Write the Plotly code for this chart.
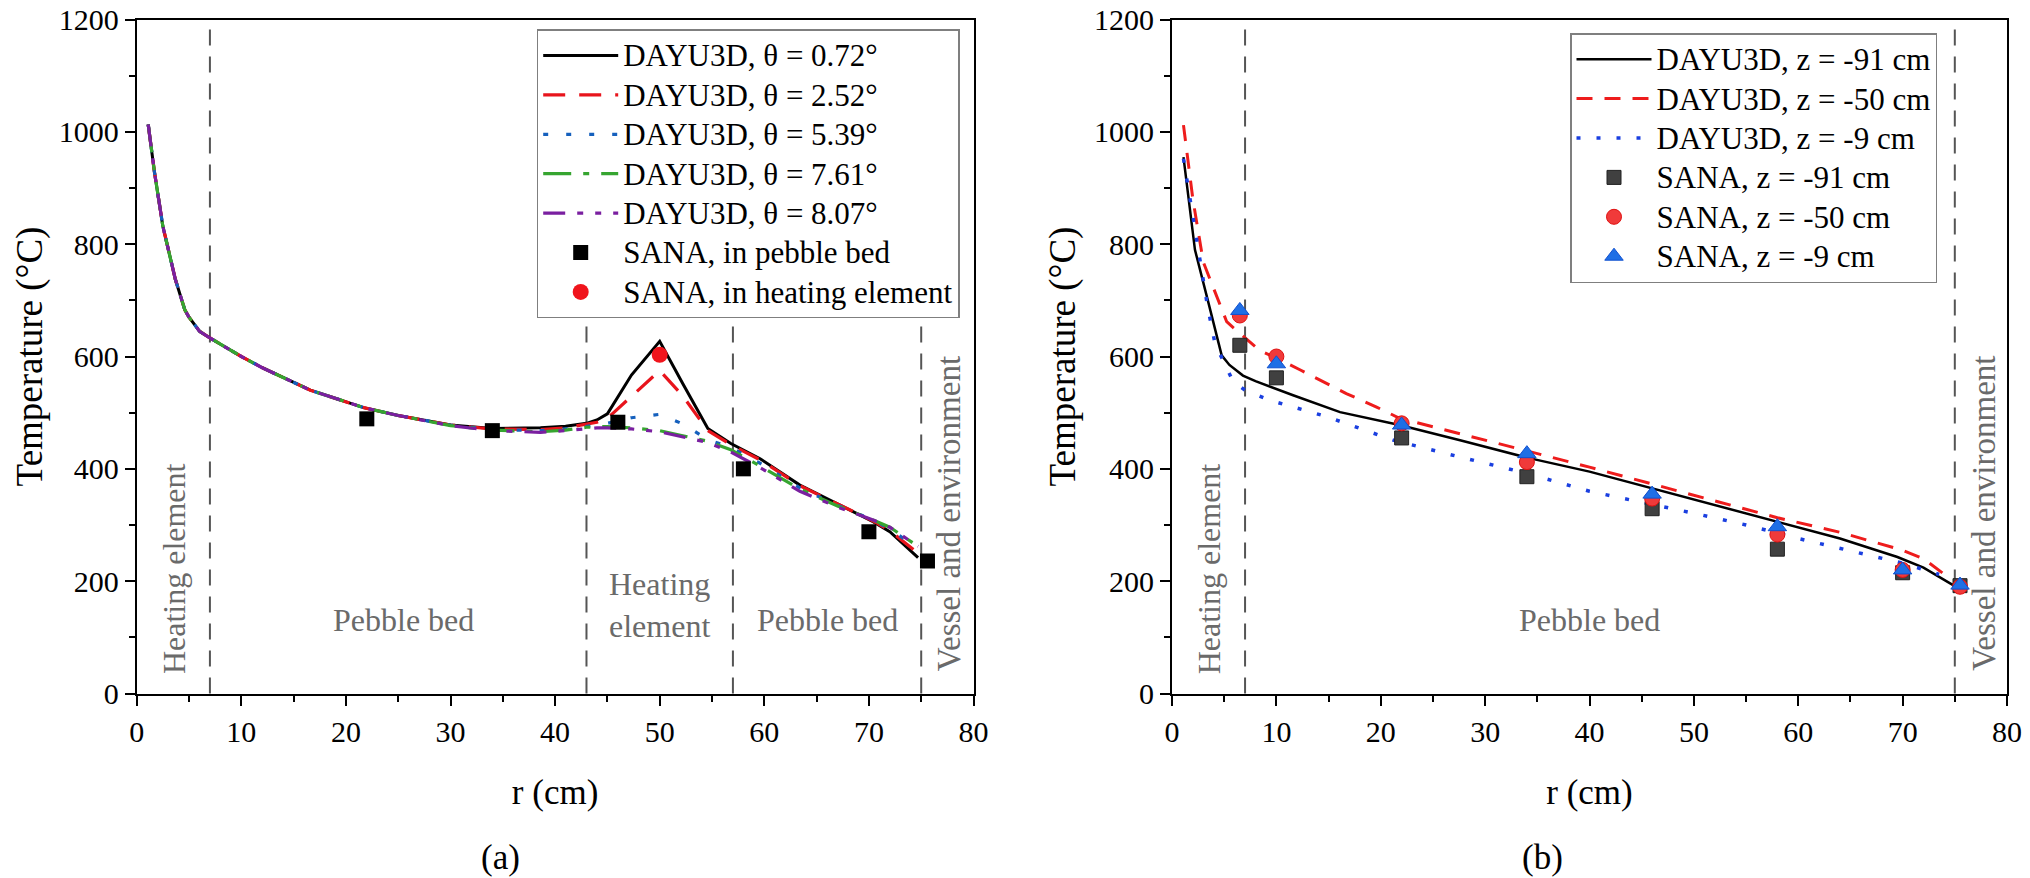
import plotly.graph_objects as go

# ---------------- Data: panel (a) ----------------
r_a = [1.1, 1.7, 2.5, 3.0, 3.7, 4.6, 5.0, 6.0, 7.0, 10, 12, 16.6, 21.7, 25, 30, 34, 38.6, 41,
       43, 44, 45, 47.3, 50, 52.2, 54.6, 56.8, 59.6, 63.4, 67, 70.4, 72, 74.7]
T_a_072 = [1013, 928, 832, 792, 737, 683, 670, 645, 633, 600, 580, 540, 509, 495, 478, 472, 473, 476,
           481, 487, 498, 567, 627, 552, 472, 445, 418, 371, 338, 306, 288, 242]
T_a_252 = [1013, 928, 832, 792, 737, 683, 670, 645, 633, 600, 580, 540, 509, 495, 478, 471, 470, 473,
           479, 483, 490, 530, 575, 530, 468, 443, 416, 370, 337, 307, 290, 250]
T_a_539 = [1013, 928, 832, 792, 737, 683, 670, 645, 633, 600, 580, 540, 509, 495, 478, 470, 468, 471,
           475, 478, 481, 491, 497, 480, 452, 438, 410, 366, 335, 309, 293, 258]
T_a_761 = [1013, 928, 832, 792, 737, 683, 670, 645, 633, 600, 580, 540, 509, 495, 477, 469, 466, 469,
           474, 475, 475, 473, 468, 459, 449, 434, 405, 364, 334, 309, 296, 262]
T_a_807 = [1013, 928, 832, 792, 737, 683, 670, 645, 633, 600, 580, 540, 509, 495, 477, 468, 465, 468,
           472, 473, 473, 471, 466, 457, 447, 430, 402, 360, 332, 309, 296, 262]
r_a_bed = [22, 34, 46, 58, 70, 75.6]
T_a_bed = [489, 468, 483, 400, 288, 236]
r_a_heat = [50]
T_a_heat = [603]
bounds_a = [7, 43, 57, 75]

# ---------------- Data: panel (b) ----------------
r_b_91 = [1.1, 2.2, 3.5, 4.76, 5.5, 6.8, 8, 10, 11.6, 16.1, 21.8, 27.6, 34, 40, 46, 50, 58, 64, 69.5, 72, 75.2]
T_b_91 = [955, 790, 695, 602, 585, 566, 556, 542, 531, 501, 478, 451, 420, 395, 365, 345, 305, 276, 243, 224, 189]
r_b_50 = [1.1, 2, 3.0, 3.96, 5.24, 6.5, 8.4, 10, 12.3, 16.7, 19.6, 21.8, 27.6, 34, 40, 46, 50, 58, 64, 70, 72, 74.5]
T_b_50 = [1012, 880, 768, 724, 662, 641, 611, 597, 576, 534, 510, 490, 463, 432, 403, 373, 353, 313, 287, 255, 240, 205]
r_b_9 = [1.1, 2, 2.68, 3.4, 4.12, 5.87, 7, 9.4, 14.8, 21.2, 26.3, 34, 40, 46, 50, 55, 60, 65, 70, 73.5]
T_b_9 = [952, 850, 765, 690, 623, 555, 540, 522, 493, 451, 427, 392, 360, 337, 321, 300, 276, 254, 232, 212]
r_b_sana = [6.5, 10, 22, 34, 46, 58, 70, 75.5]
T_b_sana_91 = [620, 562, 455, 386, 329, 257, 215, 192]
T_b_sana_50 = [673, 600, 481, 412, 347, 283, 220, 190]
T_b_sana_9 = [682, 587, 478, 427, 355, 297, 220, 193]
bounds_b = [7, 75]

FONT = "Liberation Serif"
LEG_TXT = 31  # displayed legend text size


def lg(s):
    return '<span style="font-size:%dpx">%s</span>' % (LEG_TXT, s)


fig = go.Figure()

# panel (a) lines
lines_a = [
    ("DAYU3D, θ = 0.72°", T_a_072, "black", "solid", 3),
    ("DAYU3D, θ = 2.52°", T_a_252, "#e8141c", "22px,14px", 3.2),
    ("DAYU3D, θ = 5.39°", T_a_539, "#1560bd", "5px,18px", 3.2),
    ("DAYU3D, θ = 7.61°", T_a_761, "#36a530", "28px,12px,6px,12px", 3.2),
    ("DAYU3D, θ = 8.07°", T_a_807, "#7a1fa0", "22px,12px,6px,12px,6px,12px", 3.2),
]
for name, T, c, d, w in lines_a:
    fig.add_trace(go.Scatter(x=r_a, y=T, mode="lines", name=lg(name), line=dict(color=c, dash=d, width=w),
                             xaxis="x", yaxis="y", legend="legend"))
fig.add_trace(go.Scatter(x=r_a_bed, y=T_a_bed, mode="markers", name=lg("SANA, in pebble bed"),
                         marker=dict(symbol="square", size=15, color="black"), xaxis="x", yaxis="y", legend="legend"))
fig.add_trace(go.Scatter(x=r_a_heat, y=T_a_heat, mode="markers", name=lg("SANA, in heating element"),
                         marker=dict(symbol="circle", size=16, color="#f0141c"), xaxis="x", yaxis="y", legend="legend"))

# panel (b)
fig.add_trace(go.Scatter(x=r_b_91, y=T_b_91, mode="lines", name=lg("DAYU3D, z = -91 cm"),
                         line=dict(color="black", width=2.5), xaxis="x2", yaxis="y2", legend="legend2"))
fig.add_trace(go.Scatter(x=r_b_50, y=T_b_50, mode="lines", name=lg("DAYU3D, z = -50 cm"),
                         line=dict(color="#ee1c1c", width=3, dash="16px,12px"), xaxis="x2", yaxis="y2", legend="legend2"))
fig.add_trace(go.Scatter(x=r_b_9, y=T_b_9, mode="lines", name=lg("DAYU3D, z = -9 cm"),
                         line=dict(color="#1a3fe0", width=3.5, dash="4px,16px"), xaxis="x2", yaxis="y2", legend="legend2"))
fig.add_trace(go.Scatter(x=r_b_sana, y=T_b_sana_91, mode="markers", name=lg("SANA, z = -91 cm"),
                         marker=dict(symbol="square", size=14, color="#404040", line=dict(color="#202020", width=1)),
                         xaxis="x2", yaxis="y2", legend="legend2"))
fig.add_trace(go.Scatter(x=r_b_sana, y=T_b_sana_50, mode="markers", name=lg("SANA, z = -50 cm"),
                         marker=dict(symbol="circle", size=15, color="#f03a3a", line=dict(color="#e01010", width=1)),
                         xaxis="x2", yaxis="y2", legend="legend2"))
fig.add_trace(go.Scatter(x=r_b_sana, y=T_b_sana_9, mode="markers", name=lg("SANA, z = -9 cm"),
                         marker=dict(symbol="triangle-up", size=16, color="#1f6fe5", line=dict(color="#1050d0", width=1)),
                         xaxis="x2", yaxis="y2", legend="legend2"))


def xaxis(domain, anchor):
    return dict(domain=domain, anchor=anchor, range=[0, 80], dtick=10, tick0=0, automargin=False,
                showline=True, linecolor="black", linewidth=2, mirror=True,
                ticks="outside", ticklen=10, tickwidth=2, tickcolor="black",
                minor=dict(ticks="outside", ticklen=6, tickwidth=2, dtick=5, tickcolor="black"),
                showgrid=False, zeroline=False,
                tickfont=dict(family=FONT, size=30, color="black"),
                title=dict(text="r (cm)", font=dict(family=FONT, size=35, color="black"), standoff=33))


def yaxis(domain, anchor, standoff):
    return dict(domain=domain, anchor=anchor, range=[0, 1200], dtick=200, tick0=0, automargin=False,
                showline=True, linecolor="black", linewidth=2, mirror=True,
                ticks="outside", ticklen=10, tickwidth=2, tickcolor="black",
                minor=dict(ticks="outside", ticklen=6, tickwidth=2, dtick=100, tickcolor="black"),
                showgrid=False, zeroline=False,
                tickfont=dict(family=FONT, size=30, color="black"),
                title=dict(text="Temperature (°C)", font=dict(family=FONT, size=37, color="black"),
                           standoff=standoff))


ydom = [1 - 693.5 / 878, 1 - 19.5 / 878]
legend_common = dict(xanchor="left", yanchor="top", bgcolor="white", bordercolor="#7f7f7f", borderwidth=1.5,
                     font=dict(family=FONT, size=28, color="black"), itemwidth=75, tracegroupgap=0)

shapes = []
for b in bounds_a:
    shapes.append(dict(type="line", xref="x", yref="y domain", x0=b, x1=b, y0=0, y1=1,
                       line=dict(color="#555555", width=2, dash="16px,11px"), layer="below"))
for b in bounds_b:
    shapes.append(dict(type="line", xref="x2", yref="y2 domain", x0=b, x1=b, y0=0, y1=1,
                       line=dict(color="#555555", width=2, dash="16px,11px"), layer="below"))

GRAY = "#6a6a6a"
ann_font = dict(family=FONT, size=32, color=GRAY)
ann_font_v = dict(family=FONT, size=33, color=GRAY)
annotations = [
    dict(xref="x", yref="y", x=3.5, y=222, text="Heating element", textangle=-90, showarrow=False, font=ann_font),
    dict(xref="x", yref="y", x=25.5, y=130, text="Pebble bed", showarrow=False, font=ann_font),
    dict(xref="x", yref="y", x=50, y=158, text="Heating<br>element", showarrow=False, font=ann_font),
    dict(xref="x", yref="y", x=66, y=130, text="Pebble bed", showarrow=False, font=ann_font),
    dict(xref="x", yref="y", x=77.6, y=320, text="Vessel and environment", textangle=-90, showarrow=False, font=ann_font_v),
    dict(xref="x2", yref="y2", x=3.5, y=222, text="Heating element", textangle=-90, showarrow=False, font=ann_font),
    dict(xref="x2", yref="y2", x=40, y=130, text="Pebble bed", showarrow=False, font=ann_font),
    dict(xref="x2", yref="y2", x=77.8, y=320, text="Vessel and environment", textangle=-90, showarrow=False, font=ann_font_v),
    dict(xref="paper", yref="paper", x=500 / 2030, y=1 - 857 / 878, xanchor="center", yanchor="middle",
         text="(a)", showarrow=False, font=dict(family=FONT, size=35, color="black")),
    dict(xref="paper", yref="paper", x=1542 / 2030, y=1 - 857 / 878, xanchor="center", yanchor="middle",
         text="(b)", showarrow=False, font=dict(family=FONT, size=35, color="black")),
]

fig.update_layout(
    width=2030, height=878, margin=dict(l=0, r=0, t=0, b=0, autoexpand=False),
    paper_bgcolor="white", plot_bgcolor="white",
    xaxis=xaxis([136.7 / 2030, 973.5 / 2030], "y"),
    yaxis=yaxis(ydom, "x", 5),
    xaxis2=xaxis([1172 / 2030, 2007 / 2030], "y2"),
    yaxis2=yaxis(ydom, "x2", 7),
    legend=dict(x=536.7 / 2030, y=1 - 29.3 / 878, **legend_common),
    legend2=dict(x=1570 / 2030, y=1 - 33 / 878, **legend_common),
    shapes=shapes, annotations=annotations,
)

fig.write_html("out.html")
